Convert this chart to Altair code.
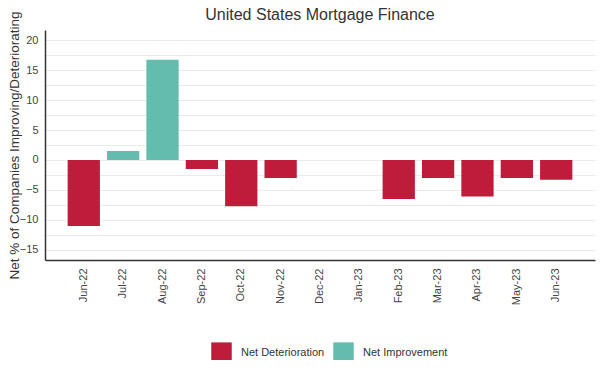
import altair as alt
import pandas as pd

months = ["Jun-22", "Jul-22", "Aug-22", "Sep-22", "Oct-22", "Nov-22", "Dec-22",
          "Jan-23", "Feb-23", "Mar-23", "Apr-23", "May-23", "Jun-23"]
values = [-11.0, 1.5, 16.7, -1.5, -7.7, -3.0, 0.0, 0.0, -6.5, -3.0, -6.1, -3.0, -3.3]
series = ["Net Deterioration", "Net Improvement"]
colors = ["#BE1C3A", "#64BCAF"]

rows = []
for m, v in zip(months, values):
    if v == 0:
        continue
    rows.append({"month": m, "value": v, "series": series[1] if v > 0 else series[0]})
df = pd.DataFrame(rows)

grid_vals = [x * 2.5 for x in range(-6, 9)]

chart = alt.Chart(df).mark_bar().encode(
    x=alt.X("month:N", sort=months,
            scale=alt.Scale(domain=months, paddingInner=0.18, paddingOuter=0.575),
            axis=alt.Axis(title=None, labelAngle=270, labelFontSize=11, labelColor="#444",
                          ticks=False, domain=True, domainColor="#333", domainWidth=1.5,
                          labelPadding=8, grid=False, labelFont="Liberation Sans")),
    y=alt.Y("value:Q",
            scale=alt.Scale(domain=[-16.67, 21.67], nice=False, zero=False),
            axis=alt.Axis(title="Net % of Companies Improving/Deteriorating",
                          titleFontSize=13.5, titleFontWeight="normal", titleColor="#333",
                          titleFont="Liberation Sans", titleX=-24,
                          values=grid_vals,
                          labelExpr="datum.value % 5 == 0 ? datum.label : ''",
                          labelFontSize=11, labelColor="#444", labelFont="Liberation Sans",
                          ticks=False, labelPadding=7,
                          domainColor="#333", domainWidth=1.5,
                          gridColor="#ebebeb", gridWidth=1)),
    color=alt.Color("series:N", scale=alt.Scale(domain=series, range=colors),
                    legend=alt.Legend(title=None, orient="none", direction="horizontal",
                                      legendX=166, legendY=312,
                                      symbolType="square", symbolSize=420,
                                      symbolStrokeWidth=0, labelFontSize=11,
                                      labelColor="#333", labelFont="Liberation Sans",
                                      labelOffset=9, columnPadding=8)),
).properties(
    width=550, height=230,
    autosize=alt.AutoSizeParams(type="none"),
    padding={"left": 37, "top": 22, "right": 2, "bottom": 100},
    title=alt.TitleParams("United States Mortgage Finance", fontSize=16,
                          fontWeight="normal", color="#333", font="Liberation Sans",
                          anchor="middle", frame="group", offset=10, dy=22),
).configure_view(stroke=None)

chart.save("out.html", embed_options={"renderer": "svg", "actions": False})
